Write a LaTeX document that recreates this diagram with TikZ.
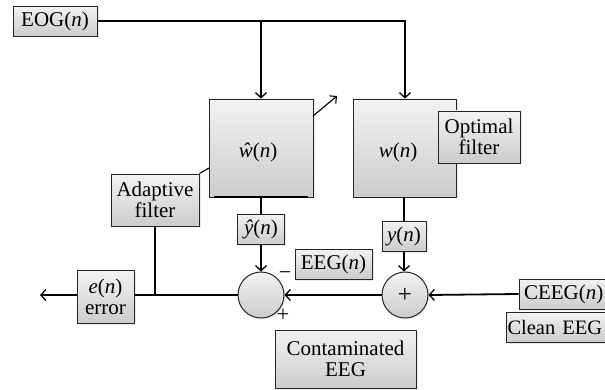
\documentclass[tikz,border=0pt]{standalone}
\usepackage{fontspec}
\setmainfont{Liberation Serif}
\usetikzlibrary{arrows.meta,shadows}
\begin{document}
\begin{tikzpicture}[x=1pt,y=-1pt,
  box/.style={draw=black!85,line width=0.9pt,top color=gray!10,bottom color=gray!40,
    inner sep=0pt,align=center,font=\fontsize{21}{21}\selectfont,
    drop shadow={opacity=0.18,shadow xshift=1.5pt,shadow yshift=-1.5pt}},
  sumc/.style={circle,draw=black!85,line width=1pt,top color=gray!10,bottom color=gray!40,
    minimum size=46pt,inner sep=0pt,font=\fontsize{25}{25}\selectfont,
    drop shadow={opacity=0.18,shadow xshift=1.5pt,shadow yshift=-1.5pt}},
  ln/.style={line width=1.8pt},
  arr/.style={line width=1.8pt,-{Straight Barb[length=5pt,width=11pt,line width=1.3pt]}},
  sgn/.style={font=\fontsize{22}{22}\selectfont,inner sep=0pt}]
\useasboundingbox (0,0) rectangle (605,390);
% blocks
\node[box,minimum width=104pt,minimum height=98pt] (wh) at (261,148) {};
\node[font=\fontsize{21}{21}\selectfont] (whl) at (258,152) {{\itshape\^{w}}(\textit{n})};
\node[box,minimum width=103pt,minimum height=98pt] (w) at (405,148) {};
\node[font=\fontsize{21}{21}\selectfont] (wl) at (398,152) {\textit{w}(\textit{n})};
\node[box,minimum width=82pt,minimum height=52pt] (opt) at (479,137) {Optimal\\filter};
\node[box,minimum width=88pt,minimum height=52pt] (ada) at (155,200) {Adaptive\\filter};
\node[box,minimum width=84pt,minimum height=30pt] (eog) at (55,21) {EOG(\textit{n})};
\node[box,minimum width=47pt,minimum height=30pt] (yh) at (261,229) {{\itshape\^{y}}(\textit{n})};
\node[box,minimum width=44pt,minimum height=30pt] (y) at (404,236) {\textit{y}(\textit{n})};
\node[sumc] (lc) at (261,295) {};
\node[sumc] (rc) at (405,295) {+};
\node[box,minimum width=57pt,minimum height=53pt] (err) at (105.5,297) {\textit{e}(\textit{n})\\error};
\node[box,minimum width=77pt,minimum height=30pt] (eeg) at (333.5,264) {EEG(\textit{n})};
\node[box,minimum width=90pt,minimum height=30pt,text width=90pt,align=left] (ceeg) at (564,294) {\hspace{5pt}CEEG(\textit{n})};
\node[box,minimum width=102pt,minimum height=30pt,text width=102pt,align=left] (clean) at (557,327) {\hspace{1.5pt}\fontsize{20.5}{21}\selectfont Clean EEG};
\node[box,minimum width=141pt,minimum height=58pt] (cont) at (345.5,359) {Contaminated\\EEG};
\node[sgn] (minus) at (285,276) {\textminus};
\node[sgn] (plus) at (283,315) {+};
% thick bar under adaptive block
\coordinate (bl) at (214,197);
\coordinate (br) at (308,197);
\draw[line width=2.6pt] (bl) -- (br);
% connectors
\coordinate (b1) at (wh.north |- eog.east);
\draw[arr] (eog.east) -| (w.north);
\draw[arr] (b1) -- (wh.north);
\coordinate (d1) at (209,168);
\coordinate (d2) at (313,116);
\coordinate (tip) at (337,96);
\draw[line width=1.1pt] (ada.north east) -- (d1);
\draw[line width=1.1pt,-{Straight Barb[length=5pt,width=10pt,line width=1.1pt]}] (d2) -- (tip);
\draw[ln] (wh.south) -- (yh.north);
\draw[arr] (yh.south) -- (lc.north);
\draw[ln] (w.south -| y.north) -- (y.north);
\draw[arr] (y.south) -- (y.south |- rc.north);
\draw[arr] (ceeg.west) -- (rc.east);
\draw[arr] (rc.west) -- (lc.east);
\coordinate (ej) at (err.east |- lc.west);
\coordinate (ew) at (err.west |- lc.west);
\coordinate (out) at (40,295);
\draw[ln] (lc.west) -- (ej);
\draw[arr] (ew) -- (out);
\coordinate (aj) at (ada.south |- lc.west);
\draw[line width=1.2pt] (ada.south) -- (aj);
\end{tikzpicture}
\end{document}
